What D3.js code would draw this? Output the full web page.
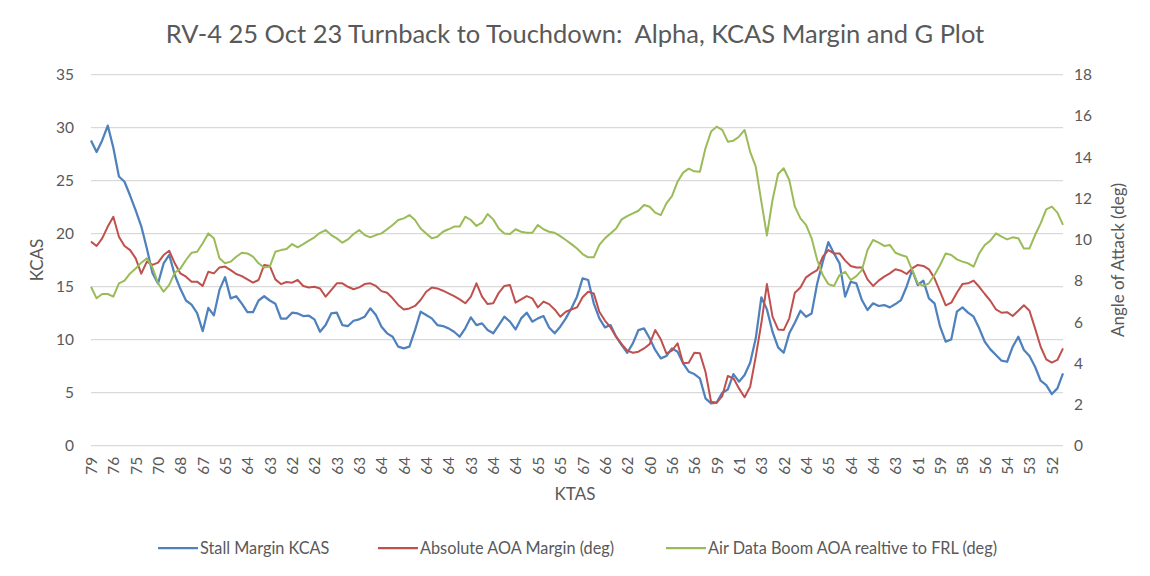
<!DOCTYPE html>
<html>
<head>
<meta charset="utf-8">
<script src="https://cdn.jsdelivr.net/npm/d3@7"></script>
<style>
  body { margin: 0; background: #fff; }
  text { font-family: Lato, "Open Sans", sans-serif; fill: #595959; }
</style>
</head>
<body>
<div id="chart"></div>
<script>
// x axis tick labels (every 4th sample)
const ktasLabels = [79,76,75,70,68,67,65,64,63,62,62,63,63,64,64,64,64,63,64,64,65,65,67,66,62,60,56,56,59,61,63,62,64,65,64,64,63,61,59,58,56,54,53,52];

// Stall Margin KCAS (left axis)
const stallMargin = [
  28.8,27.7,28.8,30.2,28.1,25.4,24.9,23.6,22.2,20.7,18.6,16.3,15.3,17.2,18.0,16.1,14.8,13.7,13.3,12.5,10.8,13.0,12.3,14.7,15.9,13.9,14.1,13.4,12.6,12.6,13.7,14.1,13.7,13.4,12.0,12.0,
  12.55,12.48,12.23,12.26,11.92,10.75,11.38,12.48,12.55,11.38,11.29,11.79,11.92,12.17,12.96,12.33,11.23,10.60,10.28,9.34,9.18,9.34,10.91,12.64,12.33,12.01,11.38,11.29,11.07,10.75,10.28,11.07,12.11,11.38,11.54,
  10.91,10.60,11.38,12.17,11.70,10.97,12.01,12.55,11.70,12.01,12.23,11.16,10.60,11.23,12.01,12.96,14.06,15.79,15.63,13.43,12.01,11.16,11.38,10.28,9.50,8.77,9.65,10.91,11.07,10.13,9.03,8.24,8.46,9.18,8.87,
  7.77,6.98,6.76,6.35,4.47,3.99,4.06,5.00,5.31,6.76,6.04,6.67,7.83,10.13,14.0,12.86,10.75,9.28,8.77,10.60,11.60,12.74,12.17,12.48,15.31,17.36,19.2,18.14,17.20,14.06,15.47,15.31,13.74,12.80,13.43,13.18,
  13.27,13.05,13.36,13.74,15.00,16.57,15.16,15.57,13.90,13.43,11.23,9.81,10.03,12.64,13.05,12.55,12.17,11.07,9.81,9.09,8.55,8.02,7.92,9.34,10.28,9.03,8.46,7.45,6.13,5.72,4.87,5.41,6.82
];

// Absolute AOA Margin (deg) (right axis)
const aoaMargin = [
  9.90,9.69,10.06,10.63,11.11,10.14,9.69,9.49,9.09,8.35,8.93,8.77,8.88,9.25,9.46,8.85,8.36,8.20,7.96,7.96,7.75,8.44,8.36,8.65,8.69,8.52,8.33,8.23,8.07,7.91,8.04,8.77,8.72,8.07,7.84,7.94,
  7.91,8.04,7.75,7.68,7.71,7.63,7.23,7.55,7.88,7.88,7.71,7.59,7.68,7.84,7.88,7.75,7.50,7.42,7.15,6.83,6.61,6.66,6.78,7.07,7.47,7.67,7.63,7.52,7.39,7.26,7.10,6.91,7.23,7.88,7.23,
  6.87,6.91,7.42,7.75,7.80,6.94,7.10,7.26,7.15,6.71,6.99,6.87,6.61,6.26,6.50,6.61,6.71,7.20,7.47,7.39,6.50,6.07,5.74,5.29,4.93,4.61,4.51,4.56,4.72,4.93,5.61,5.16,4.48,4.61,4.97,
  4.00,4.03,4.51,4.48,3.59,2.13,2.09,2.41,3.38,3.27,2.78,2.35,2.86,4.32,5.94,7.84,6.26,5.64,5.61,6.18,7.42,7.68,8.17,8.36,8.52,9.17,9.49,9.33,9.33,8.98,8.72,8.65,8.65,8.07,7.75,8.01,
  8.20,8.36,8.56,8.49,8.33,8.60,8.77,8.72,8.56,8.12,7.47,6.81,6.94,7.42,7.84,7.88,8.01,7.71,7.36,7.03,6.61,6.45,6.48,6.29,6.55,6.81,6.55,5.69,4.80,4.19,4.03,4.16,4.72
];

// Air Data Boom AOA realtive to FRL (deg) (right axis)
const boomAoa = [
  7.71,7.15,7.36,7.36,7.23,7.88,8.01,8.36,8.60,8.88,9.09,8.65,7.88,7.47,7.80,8.39,8.59,9.01,9.36,9.41,9.82,10.30,10.06,9.09,8.85,8.93,9.17,9.36,9.33,9.17,8.85,8.64,8.69,9.41,9.49,9.54,
  9.78,9.62,9.78,9.95,10.11,10.33,10.46,10.22,10.06,9.85,10.01,10.27,10.46,10.22,10.11,10.22,10.30,10.50,10.71,10.95,11.03,11.19,10.95,10.54,10.30,10.06,10.14,10.38,10.50,10.63,10.63,11.11,10.95,10.66,10.82,
  11.24,10.98,10.54,10.30,10.27,10.50,10.38,10.33,10.33,10.71,10.50,10.38,10.33,10.17,9.98,9.78,9.57,9.30,9.14,9.14,9.74,10.06,10.30,10.54,10.98,11.14,11.27,11.40,11.68,11.59,11.31,11.19,11.76,12.11,12.81,
  13.25,13.44,13.31,13.29,14.43,15.24,15.48,15.32,14.75,14.80,14.99,15.32,14.26,13.54,11.84,10.2,11.92,13.18,13.46,12.89,11.60,11.03,10.71,10.06,9.01,8.28,7.84,7.75,8.28,8.44,8.04,8.23,8.52,9.49,9.98,9.85,
  9.69,9.74,9.36,9.25,9.17,8.52,7.88,7.75,7.88,8.28,8.77,9.33,9.25,9.04,8.93,8.85,8.69,9.33,9.74,9.95,10.30,10.14,10.01,10.11,10.06,9.57,9.57,10.22,10.79,11.47,11.60,11.31,10.71
];

const kcasTicks = [0,5,10,15,20,25,30,35];
const aoaTicks = [0,2,4,6,8,10,12,14,16,18];

const config = { width: 1150, height: 576, margin: { top: 74.7, right: 87, bottom: 130.3, left: 91 } };
const innerW = config.width - config.margin.left - config.margin.right;
const innerH = config.height - config.margin.top - config.margin.bottom;

const svg = d3.select("#chart").append("svg")
  .attr("width", config.width)
  .attr("height", config.height);

svg.append("rect").attr("width", config.width).attr("height", config.height).attr("fill", "#fff");

const g = svg.append("g")
  .attr("transform", `translate(${config.margin.left},${config.margin.top})`);

const n = stallMargin.length;
const x = d3.scaleLinear().domain([0, n - 1]).range([0, innerW]);
const yL = d3.scaleLinear().domain([0, 35]).range([innerH, 0]);
const yR = d3.scaleLinear().domain([0, 18]).range([innerH, 0]);

// gridlines
g.append("g")
  .selectAll("line")
  .data(kcasTicks)
  .join("line")
  .attr("x1", 0).attr("x2", innerW)
  .attr("y1", d => yL(d)).attr("y2", d => yL(d))
  .attr("stroke", "#d9d9d9")
  .attr("stroke-width", 1.3);

// left axis
const leftAxis = g.append("g")
  .call(d3.axisLeft(yL).tickValues(kcasTicks).tickSize(0).tickPadding(17));
leftAxis.select(".domain").remove();
leftAxis.selectAll("text").style("font-size", "15.5px").style("font-family", "Lato, sans-serif").attr("fill", "#595959");

// right axis
const rightAxis = g.append("g")
  .attr("transform", `translate(${innerW},0)`)
  .call(d3.axisRight(yR).tickValues(aoaTicks).tickSize(0).tickPadding(11));
rightAxis.select(".domain").remove();
rightAxis.selectAll("text").style("font-size", "15.5px").style("font-family", "Lato, sans-serif").attr("fill", "#595959");

// bottom axis
const xTicks = ktasLabels.map((d, i) => i * 4);
const bottomAxis = g.append("g")
  .attr("transform", `translate(0,${innerH})`)
  .call(d3.axisBottom(x).tickValues(xTicks).tickSize(0).tickFormat(d => ktasLabels[d / 4]));
bottomAxis.select(".domain").remove();
bottomAxis.selectAll("text")
  .style("font-size", "15.5px").style("font-family", "Lato, sans-serif").attr("fill", "#595959")
  .attr("text-anchor", "end")
  .attr("transform", "rotate(-90)")
  .attr("x", -11)
  .attr("y", 0)
  .attr("dy", "0.35em");

// lines
const series = [
  { name: "Stall Margin KCAS", values: stallMargin, y: yL, color: "#4f81bd", w: 2.25 },
  { name: "Absolute AOA Margin (deg)", values: aoaMargin, y: yR, color: "#c0504d", w: 2 },
  { name: "Air Data Boom AOA realtive to FRL (deg)", values: boomAoa, y: yR, color: "#9bbb59", w: 2 }
];

series.forEach(s => {
  const line = d3.line()
    .x((d, i) => x(i))
    .y(d => s.y(d));
  g.append("path")
    .datum(s.values)
    .attr("fill", "none")
    .attr("stroke", s.color)
    .attr("stroke-width", s.w)
    .attr("stroke-linejoin", "round")
    .attr("d", line);
});

// title
svg.append("text")
  .attr("x", 575).attr("y", 43)
  .attr("text-anchor", "middle")
  .style("font-size", "25.5px")
  .attr("xml:space", "preserve")
  .style("white-space", "pre")
  .text("RV-4 25 Oct 23 Turnback to Touchdown:  Alpha, KCAS Margin and G Plot");

// axis titles
svg.append("text")
  .attr("transform", "translate(43,260) rotate(-90)")
  .attr("text-anchor", "middle")
  .style("font-size", "17px")
  .text("KCAS");

svg.append("text")
  .attr("transform", "translate(1124,260) rotate(-90)")
  .attr("text-anchor", "middle")
  .style("font-size", "17px")
  .text("Angle of Attack (deg)");

svg.append("text")
  .attr("x", 575).attr("y", 500)
  .attr("text-anchor", "middle")
  .style("font-size", "17px")
  .text("KTAS");

// legend
const legendX = [158, 378, 666];
const legend = svg.append("g").attr("transform", "translate(0,548)");
series.forEach((s, i) => {
  legend.append("line")
    .attr("x1", legendX[i]).attr("x2", legendX[i] + 40)
    .attr("y1", 0).attr("y2", 0)
    .attr("stroke", s.color).attr("stroke-width", 2.25);
  legend.append("text")
    .attr("x", legendX[i] + 42).attr("y", 0)
    .attr("dy", "0.35em")
    .style("font-size", "16.3px")
    .text(s.name);
});
</script>
</body>
</html>
